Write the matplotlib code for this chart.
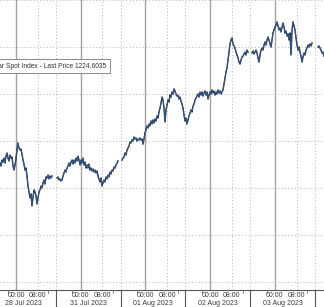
import numpy as np
import matplotlib
matplotlib.use("Agg")
import matplotlib.pyplot as plt

# ---------------- data ----------------
# x axis: trading-session time in days from 28 Jul 2023 00:00 (weekend skipped)
DAY_LABELS = ["28 Jul 2023", "31 Jul 2023", "01 Aug 2023", "02 Aug 2023", "03 Aug 2023"]
TIME_LABELS = ["00:00", "08:00"]
STEP_HOURS = 0.3707          # sampling interval of the series (~22 min)

seg1_start_h = -5.93
seg1 = [1214.13, 1213.87, 1214.38, 1214.21, 1214.55, 1214.13, 1214.72, 1214.98, 1214.55, 1214.30,
        1214.81, 1214.55, 1214.64, 1213.87, 1213.53, 1213.96, 1214.55, 1215.23, 1215.83, 1215.40,
        1215.23, 1215.32, 1214.89, 1214.38, 1214.04, 1213.53, 1213.70, 1213.02, 1212.17, 1211.66,
        1211.15, 1211.49, 1210.47, 1211.23, 1211.83, 1211.66, 1211.32, 1210.64, 1211.15, 1211.66,
        1211.83, 1212.17, 1212.00, 1212.43, 1212.68, 1212.34, 1212.94, 1212.85, 1213.11, 1212.77,
        1213.02, 1212.85, 1213.02]

seg2_start_h = 15.20
seg2 = [1212.85, 1212.94, 1212.68, 1212.77, 1212.60, 1212.68, 1213.02, 1213.28, 1213.53, 1213.36,
        1213.70, 1213.87, 1214.13, 1213.87, 1214.21, 1214.38, 1214.04, 1214.38, 1214.13, 1214.55,
        1214.30, 1214.72, 1214.38, 1213.96, 1214.38, 1214.13, 1214.55, 1213.96, 1214.21, 1213.70,
        1213.96, 1213.70, 1214.04, 1213.53, 1213.70, 1213.45, 1213.62, 1213.36, 1213.53, 1213.28,
        1213.45, 1213.02, 1212.77, 1212.51, 1212.85, 1212.17, 1212.43, 1212.68, 1212.51, 1212.94,
        1212.77, 1213.11, 1212.94, 1213.36, 1213.19, 1213.53, 1213.45, 1213.79, 1213.70, 1213.96,
        1214.13, 1214.30]

seg3_start_h = 39.29
seg3 = [1214.38, 1214.55, 1214.64, 1214.98, 1214.81, 1215.23, 1215.40, 1215.57, 1215.91, 1215.83,
        1216.09, 1216.00, 1216.34, 1216.17, 1216.26, 1216.00, 1216.17, 1216.09, 1216.26, 1216.09,
        1216.17, 1215.74, 1216.17, 1216.68, 1216.94, 1217.28, 1217.11, 1217.45, 1217.28, 1217.70,
        1217.45, 1217.79, 1217.53, 1217.87, 1217.70, 1218.13, 1217.96, 1218.47, 1218.81, 1219.23,
        1219.74, 1219.49, 1218.81, 1217.62, 1218.64, 1219.06, 1219.49, 1219.32, 1219.91, 1219.74,
        1220.17, 1220.00, 1220.43, 1220.26, 1220.00, 1219.83, 1219.91, 1219.57, 1219.74, 1219.40,
        1219.15, 1218.81, 1218.21, 1217.70, 1217.96, 1217.45, 1217.79, 1218.13, 1218.38, 1218.64,
        1218.47, 1218.98, 1219.15, 1219.49, 1219.66, 1219.83, 1220.00, 1219.74, 1220.17, 1219.91,
        1220.17, 1219.83, 1220.09, 1220.26, 1219.91, 1220.17, 1219.57, 1219.91, 1220.17, 1220.00,
        1220.34, 1220.09, 1220.26, 1219.91, 1220.17, 1220.00, 1220.34, 1220.09, 1220.26, 1220.00,
        1220.17, 1220.34, 1220.85, 1221.36, 1221.87, 1222.21, 1222.89, 1223.57, 1224.26, 1224.60,
        1224.77, 1224.26, 1224.09, 1223.91, 1223.57, 1223.32, 1223.06, 1222.72, 1222.55, 1222.89,
        1223.15, 1223.23, 1223.40, 1223.57, 1223.32, 1223.74, 1223.57]

seg4_start_h = 87.48
seg4 = [1223.49, 1223.66, 1223.40, 1223.57, 1223.74, 1223.49, 1223.06, 1222.72, 1223.32, 1223.74,
        1223.91, 1223.74, 1224.17, 1224.43, 1224.17, 1224.60, 1224.85, 1224.60, 1224.26, 1224.00,
        1224.60, 1225.19, 1225.45, 1225.70, 1225.87, 1226.13, 1225.79, 1225.45, 1225.62, 1225.28,
        1225.70, 1226.04, 1225.70, 1225.19, 1225.36, 1224.94, 1225.11, 1224.60, 1225.19, 1223.32,
        1225.45, 1226.13, 1225.79, 1225.45, 1224.77, 1224.17, 1223.74, 1224.00, 1223.57, 1223.23,
        1222.72, 1223.15, 1223.49, 1223.32, 1223.74, 1223.91, 1224.17, 1224.00, 1224.26, 1224.09,
        1224.34]

seg5_start_h = 111.94
seg5 = [1224.00, 1224.09, 1223.91, 1223.74, 1223.49, 1223.57, 1223.23]

LEGEND_TEXT = "Bloomberg Dollar Spot Index - Last Price 1224.6035"
GRID_PRICES = [1204, 1208, 1212, 1216, 1220, 1224, 1228]
SESSION_BREAK = 0.615        # label separator within each day (fraction of day)

# ---------------- figure ----------------
W, H = 324, 307
fig = plt.figure(figsize=(W / 100, H / 100), dpi=100)
fig.patch.set_facecolor("white")
ax_bottom_px = 290
ax = fig.add_axes([0, 1 - ax_bottom_px / H, 1, ax_bottom_px / H])
ax.set_facecolor("white")

px_per_day = 64.75
x_left = -16 / px_per_day
x_right = (W - 16) / px_per_day
ax.set_xlim(x_left, x_right)
ax.set_ylim(1228 - ax_bottom_px / 11.75, 1228)

dot = (0, (1.2, 2.2))
gcol = "#bdbdbd"
# grid lines
for p in GRID_PRICES:
    ax.axhline(p, color=gcol, lw=0.7, ls=dot, zorder=1)
ndays = len(DAY_LABELS)
for d in range(ndays):
    ax.axvline(d, color="#a2a2a2", lw=1.0, zorder=1)
    ax.axvline(d + 1 / 3, color=gcol, lw=0.7, ls=dot, zorder=1)
    ax.axvline(d + SESSION_BREAK, color=gcol, lw=0.7, ls=dot, zorder=1)

# series
for start_h, vals in [(seg1_start_h, seg1), (seg2_start_h, seg2), (seg3_start_h, seg3),
                      (seg4_start_h, seg4), (seg5_start_h, seg5)]:
    v = np.array(vals)
    t = (start_h + STEP_HOURS * np.arange(len(v))) / 24.0
    ax.plot(t, v, color="#0f1520", lw=1.0, zorder=3)
    ax.plot(t, v, color="#4a7fc4", lw=0.45, zorder=4, alpha=0.9)

for s in ["top", "left", "right"]:
    ax.spines[s].set_visible(False)
ax.spines["bottom"].set_color("#555555")
ax.spines["bottom"].set_linewidth(0.8)
ax.set_yticks([])
ax.set_xticks([])

# bottom label row
font = dict(family="Liberation Sans", fontsize=5.0, color="#3a3a3a")
def fx(t):
    return (t - x_left) / (x_right - x_left)
for d, lab in enumerate(DAY_LABELS):
    fig.text(fx(d), 1 - 295.5 / H, TIME_LABELS[0], ha="center", va="center", **font)
    fig.text(fx(d + 1 / 3), 1 - 295.5 / H, TIME_LABELS[1], ha="center", va="center", **font)
    fig.text(fx(d + 0.12), 1 - 303.5 / H, lab, ha="center", va="center", **font)
    sx = fx(d + SESSION_BREAK)
    fig.add_artist(plt.Line2D([sx, sx], [0, 1 - ax_bottom_px / H], color="#555555", lw=0.8))
    for m in (d + 0.5, d - 0.13):
        mx = fx(m)
        fig.add_artist(plt.Line2D([mx, mx], [1 - (ax_bottom_px + 3) / H, 1 - ax_bottom_px / H],
                                  color="#777777", lw=0.6))

# legend box (cut at the left edge, as in the reference)
fig.text(106.5 / W, 1 - 66 / H, LEGEND_TEXT, ha="right", va="center",
         family="Liberation Sans", fontsize=4.75, color="#333333",
         bbox=dict(boxstyle="square,pad=0.6", facecolor="white", edgecolor="#8a8a8a", lw=0.7),
         zorder=10)

fig.savefig("out.png", dpi=100, facecolor="white")
